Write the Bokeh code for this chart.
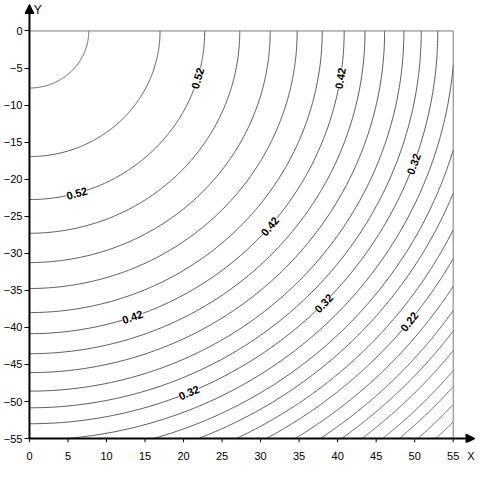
import numpy as np
from bokeh.plotting import figure
from bokeh.models import (ColumnDataSource, FixedTicker, Arrow, NormalHead,
                          LabelSet, Label, Range1d)
from bokeh.embed import file_html
from bokeh.resources import INLINE
from bokeh.core.properties import value

# ---- data ----
# contour levels (step 0.02) and their radius (distance from origin)
levels = [0.56, 0.54, 0.52, 0.50, 0.48, 0.46, 0.44, 0.42, 0.40, 0.38, 0.36,
          0.34, 0.32, 0.30, 0.28, 0.26, 0.24, 0.22, 0.20, 0.18, 0.16, 0.14,
          0.12, 0.10, 0.08, 0.06]
radii = [7.7, 16.95, 22.75, 27.3, 31.25, 34.75, 38.0, 40.85, 43.55, 46.1,
         48.6, 50.85, 53.0, 55.2, 57.3, 59.2, 61.2, 63.0, 64.9, 66.7, 68.3,
         69.9, 71.6, 73.0, 74.6, 76.2]

# contour labels: text, index of contour it sits on, polar angle (deg)
label_text = ["0.52", "0.52", "0.42", "0.42", "0.42", "0.32", "0.32", "0.32", "0.22"]
label_contour = [2, 2, 7, 7, 7, 12, 12, 12, 17]
label_theta = [-74.3, -16.3, -70.9, -40.2, -9.0, -67.0, -43.9, -19.8, -38.5]

x_ticks = [0, 5, 10, 15, 20, 25, 30, 35, 40, 45, 50, 55]
y_ticks = [0, -5, -10, -15, -20, -25, -30, -35, -40, -45, -50, -55]

X_MAX = 55
Y_MIN = -55

FONT = "Liberation Sans"

# layout (pixels) -> ranges
W, H = 476, 464
X0_PX, X55_PX = 25, 452.5          # figure px of x=0 and x=55
LEFT_PAD = 5                        # frame edge left of x=0
Y0_PX, YM55_PX = 31, 446            # figure px of y=0 and y=-55
BOTTOM_PAD = 4                      # frame edge below y=-55
sx = (X55_PX - X0_PX) / X_MAX
sy = (YM55_PX - Y0_PX) / -Y_MIN
x_start = -LEFT_PAD / sx
x_end = (W - X0_PX) / sx
y_end = Y0_PX / sy
y_start = Y_MIN - BOTTOM_PAD / sy

p = figure(width=W, height=H, output_backend="svg", toolbar_location=None,
           x_range=Range1d(x_start, x_end), y_range=Range1d(y_start, y_end),
           min_border_left=int(X0_PX - LEFT_PAD), min_border_right=0,
           min_border_top=0, min_border_bottom=int(H - YM55_PX - BOTTOM_PAD))
p.outline_line_color = None
p.grid.visible = False
p.background_fill_color = "white"

# ---- contours as circle arcs inside the 0..55 x -55..0 box ----
xs, ys = [], []
for r in radii:
    t_hi = 0.0 if r <= X_MAX else -np.arccos(X_MAX / r)
    t_lo = -np.pi / 2 if r <= -Y_MIN else -np.arcsin(-Y_MIN / r)
    t = np.linspace(t_lo, t_hi, 200)
    xs.append(r * np.cos(t))
    ys.append(r * np.sin(t))
p.multi_line(xs=xs, ys=ys, line_color="#4a4a4a", line_width=0.9)

# box top / right edges
p.line(x=[0, X_MAX, X_MAX], y=[0, 0, Y_MIN], line_color="#7a7a7a", line_width=1)

# ---- contour labels ----
th = np.radians(label_theta)
lr = np.array([radii[i] for i in label_contour])
lsrc = ColumnDataSource(dict(x=lr * np.cos(th), y=lr * np.sin(th),
                             text=label_text, angle=th + np.pi / 2))
p.add_layout(LabelSet(x="x", y="y", text="text", angle="angle", source=lsrc,
                      text_align="center", text_baseline="middle",
                      text_font=value(FONT), text_font_size="11px",
                      text_font_style="bold", text_color="black",
                      background_fill_color="white"))

# ---- axes ----
for ax in (p.xaxis[0], p.yaxis[0]):
    ax.axis_line_color = None
    ax.minor_tick_line_color = None
    ax.major_label_text_font = FONT
    ax.major_label_text_font_size = "11px"
    ax.major_label_text_color = "black"
    ax.major_label_standoff = 1

yax = p.yaxis[0]
yax.ticker = FixedTicker(ticks=y_ticks)
yax.major_tick_line_color = "black"
yax.major_tick_in = LEFT_PAD
yax.major_tick_out = 0
yax.major_label_standoff = 2

X_TITLE_POS = 57.3
xax = p.xaxis[0]
xax.ticker = FixedTicker(ticks=x_ticks + [X_TITLE_POS])
xax.major_label_overrides = {X_TITLE_POS: "X"}
xax.major_tick_line_color = None
# x tick marks (below the x axis line)
p.segment(x0=x_ticks, y0=[Y_MIN] * len(x_ticks), x1=x_ticks,
          y1=[y_start] * len(x_ticks), line_color="black", line_width=1)

# axis arrows
p.add_layout(Arrow(end=NormalHead(size=9, fill_color="black", line_color="black"),
                   x_start=0, y_start=Y_MIN, x_end=0, y_end=(Y0_PX - 4) / sy,
                   line_color="black", line_width=2))
p.add_layout(Arrow(end=NormalHead(size=9, fill_color="black", line_color="black"),
                   x_start=0, y_start=Y_MIN, x_end=(W - 1.5 - X0_PX) / sx,
                   y_end=Y_MIN, line_color="black", line_width=2))

p.add_layout(Label(x=0.55, y=(Y0_PX - 10) / sy, text="Y", text_font=FONT,
                   text_font_size="12px", text_baseline="middle",
                   text_color="black"))

open("out.html", "w").write(file_html(p, INLINE))
